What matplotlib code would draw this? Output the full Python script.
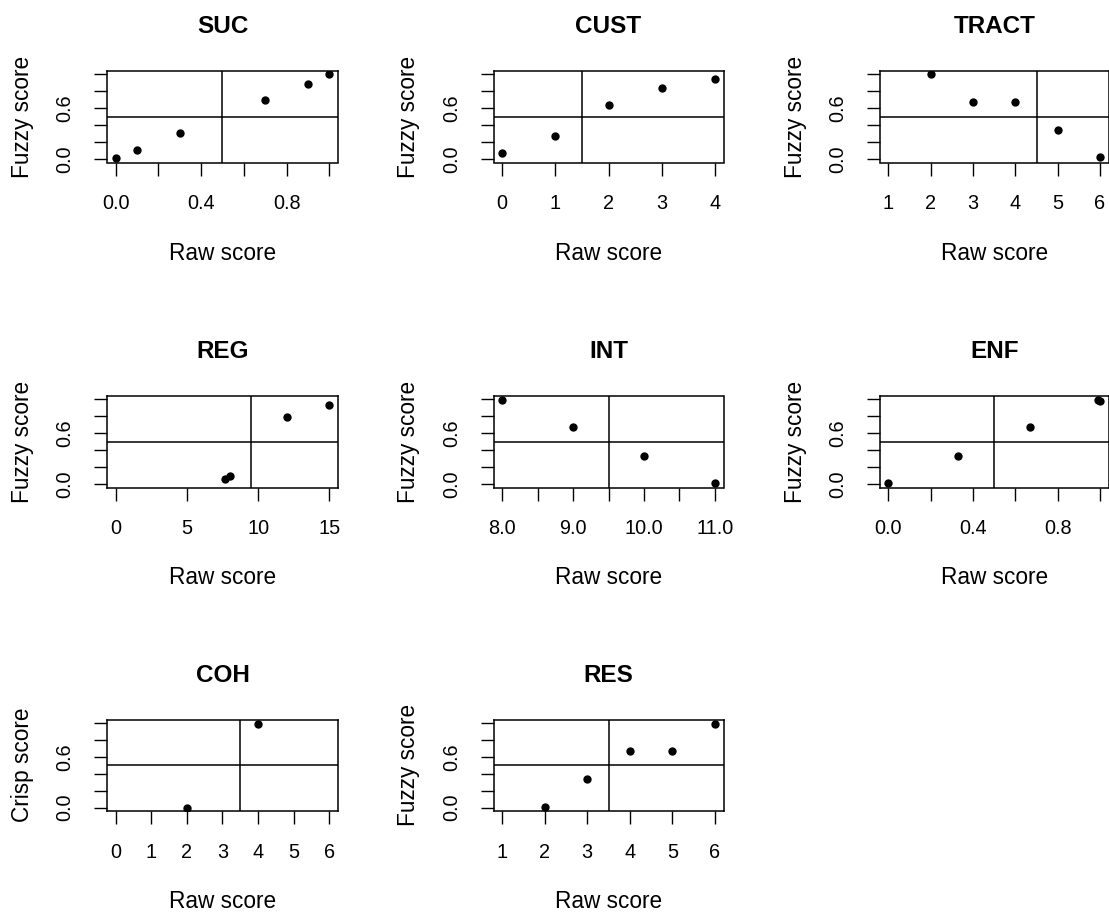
import matplotlib
matplotlib.use("Agg")
import matplotlib.pyplot as plt

plt.rcParams['font.family'] = ['Liberation Sans', 'DejaVu Sans']

W, H = 1109, 915

# ---- data ----
titles = ["SUC", "CUST", "TRACT", "REG", "INT", "ENF", "COH", "RES"]
ylabels = ["Fuzzy score"] * 6 + ["Crisp score", "Fuzzy score"]

suc_x = [0.0, 0.1, 0.3, 0.7, 0.9, 1.0]
suc_y = [0.01, 0.11, 0.31, 0.70, 0.89, 1.0]
cust_x = [0, 1, 2, 3, 4]
cust_y = [0.07, 0.27, 0.64, 0.84, 0.94]
tract_x = [2, 3, 4, 5, 6]
tract_y = [1.0, 0.67, 0.67, 0.34, 0.02]
reg_x = [7.7, 8.0, 12, 15]
reg_y = [0.06, 0.09, 0.79, 0.93]
int_x = [8, 9, 10, 11]
int_y = [0.99, 0.67, 0.33, 0.01]
enf_x = [0.0, 0.33, 0.67, 0.99, 1.0]
enf_y = [0.01, 0.33, 0.67, 0.99, 0.98]
coh_x = [2, 4]
coh_y = [0.0, 0.99]
res_x = [2, 3, 4, 5, 6]
res_y = [0.01, 0.34, 0.67, 0.67, 0.99]

xs = [suc_x, cust_x, tract_x, reg_x, int_x, enf_x, coh_x, res_x]
ys = [suc_y, cust_y, tract_y, reg_y, int_y, enf_y, coh_y, res_y]

x_ranges = [(0, 1), (0, 4), (1, 6), (0, 15), (8, 11), (0, 1), (0, 6), (1, 6)]
thresholds = [0.5, 1.5, 4.5, 9.5, 9.5, 0.5, 3.5, 3.5]
y_cut = 0.5

xticks = [
    [0.0, 0.2, 0.4, 0.6, 0.8, 1.0],
    [0, 1, 2, 3, 4],
    [1, 2, 3, 4, 5, 6],
    [0, 5, 10, 15],
    [8.0, 8.5, 9.0, 9.5, 10.0, 10.5, 11.0],
    [0.0, 0.2, 0.4, 0.6, 0.8, 1.0],
    [0, 1, 2, 3, 4, 5, 6],
    [1, 2, 3, 4, 5, 6],
]
xticklabels = [
    ["0.0", "", "0.4", "", "0.8", ""],
    ["0", "1", "2", "3", "4"],
    ["1", "2", "3", "4", "5", "6"],
    ["0", "5", "10", "15"],
    ["8.0", "", "9.0", "", "10.0", "", "11.0"],
    ["0.0", "", "0.4", "", "0.8", ""],
    ["0", "1", "2", "3", "4", "5", "6"],
    ["1", "2", "3", "4", "5", "6"],
]
yticks = [0.0, 0.2, 0.4, 0.6, 0.8, 1.0]
yticklabels = ["0.0", "", "", "0.6", "", ""]

# ---- layout (pixels) ----
col_left = [107, 493.5, 880]
col_width = [231, 230, 228.5]
row_top = [71, 396, 719.5]
box_h = 91.5

fig = plt.figure(figsize=(W / 100, H / 100), dpi=100)

for i in range(8):
    r, c = divmod(i, 3)
    L, T, bw = col_left[c], row_top[r], col_width[c]
    ax = fig.add_axes([L / W, 1 - (T + box_h) / H, bw / W, box_h / H])
    ax.plot(xs[i], ys[i], 'o', color='black', ms=6, mew=0, zorder=3)
    ax.axhline(y_cut, color='black', lw=1.1)
    ax.axvline(thresholds[i], color='black', lw=1.1)
    lo, hi = x_ranges[i]
    pad = 0.04 * (hi - lo)
    ax.set_xlim(lo - pad, hi + pad)
    ax.set_ylim(-0.04, 1.04)
    ax.set_xticks(xticks[i])
    ax.set_xticklabels(xticklabels[i])
    ax.set_yticks(yticks)
    ax.set_yticklabels(yticklabels, rotation=90, va='center', ha='right')
    ax.tick_params(direction='out', length=9.4, width=1.0, labelsize=14.3,
                   color='black', labelcolor='black')
    ax.tick_params(axis='x', pad=13.5)
    ax.tick_params(axis='y', pad=14)
    for s in ax.spines.values():
        s.set_linewidth(1.1)
    cx = (L + bw / 2) / W
    fig.text(cx, 1 - (T - 38) / H, titles[i], ha='center', va='baseline',
             fontsize=17.5, fontweight='bold')
    fig.text(cx, 1 - (T + box_h + 97) / H, "Raw score", ha='center',
             va='baseline', fontsize=16.3)
    fig.text((L - 78) / W, 1 - (T + box_h / 2) / H, ylabels[i], ha='center',
             va='baseline', rotation=90, rotation_mode='anchor', fontsize=16.3)

fig.savefig("out.png", dpi=100)
